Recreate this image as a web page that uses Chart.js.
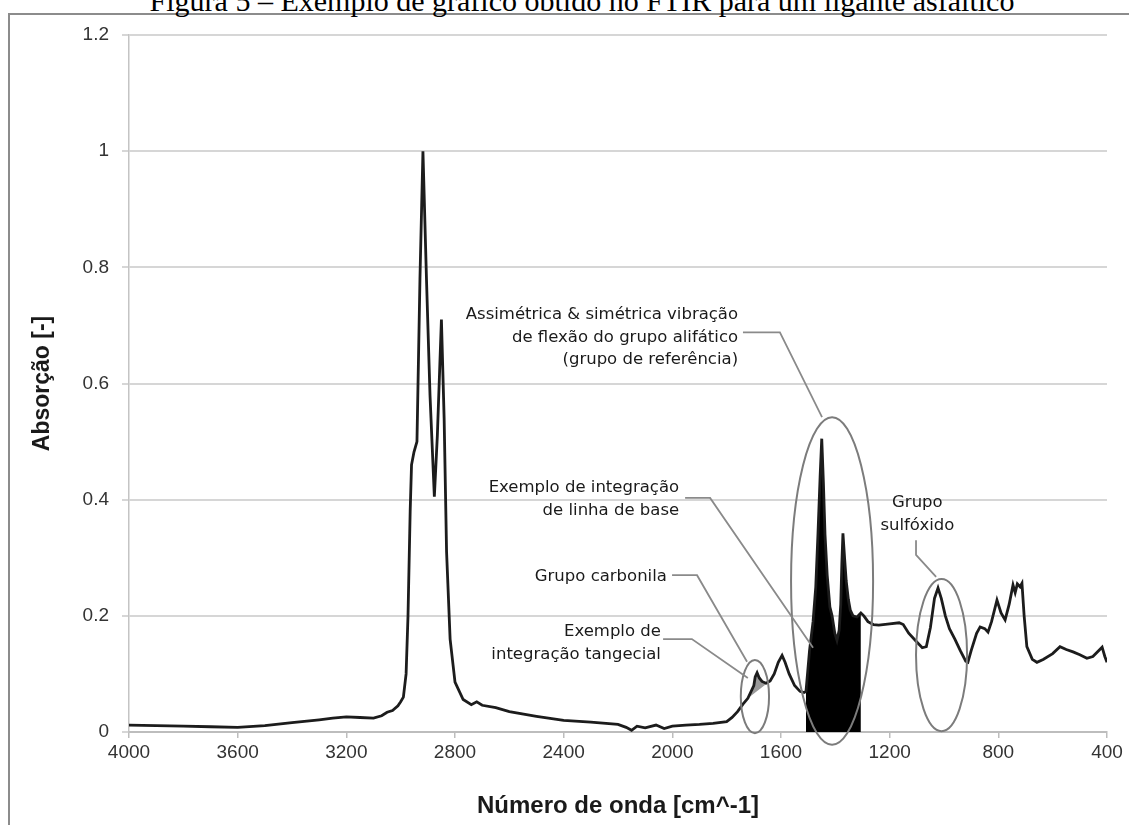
<html><head></head>
<body style="margin:0;background:#fff;overflow:hidden">
<script src="https://cdn.jsdelivr.net/npm/chart.js@4/dist/chart.umd.min.js"></script>
<div style="position:absolute;left:8px;top:13px;width:1200px;height:900px;border:2px solid #8c8c8c"></div>
<div style="position:absolute;left:0;top:-14px;width:1164px;text-align:center;font-family:'Liberation Serif','Times New Roman',serif;font-size:30px;line-height:30px;white-space:nowrap;color:#000">Figura 5 – Exemplo de gráfico obtido no FTIR para um ligante asfáltico</div>
<div style="position:absolute;left:0;top:0"><canvas id="myChart" width="1129" height="825"></canvas></div>
<script>
// spectrum
wavenumber = [4000,3900,3800,3700,3600,3500,3400,3300,3250,3200,3150,3100,3070,3050,3030,3010,3000,2990,2980,2973,
  2965,2960,2951,2940,2929,2918,2905,2892,2876,2865,2850,2840,2831,2818,2800,2770,2740,2720,2700,2650,
  2600,2500,2400,2300,2200,2170,2150,2130,2100,2060,2030,2000,1950,1900,1850,1800,1780,1760,1740,1722,
  1700,1695,1688,1680,1670,1655,1640,1625,1610,1596,1585,1570,1550,1530,1515,1508,1495,1482,1472,1464,
  1456,1450,1444,1438,1430,1420,1412,1402,1394,1386,1380,1376,1372,1366,1360,1352,1345,1335,1320,1306,
  1295,1280,1260,1240,1200,1165,1150,1130,1100,1080,1065,1050,1035,1022,1010,995,980,960,940,920,
  912,900,880,867,850,838,825,805,790,775,760,746,738,730,720,713,705,695,675,658,
  635,600,573,550,525,500,474,452,418,408,400];
absorbance = [0.012,0.011,0.010,0.009,0.008,0.011,0.016,0.021,0.024,0.026,0.025,0.024,0.028,0.034,0.037,0.045,0.052,0.060,0.100,0.200,
  0.380,0.460,0.482,0.500,0.780,1.000,0.780,0.580,0.405,0.510,0.710,0.540,0.310,0.160,0.086,0.056,0.047,0.052,0.046,0.042,
  0.035,0.027,0.020,0.017,0.013,0.008,0.003,0.010,0.007,0.012,0.006,0.010,0.012,0.013,0.015,0.018,0.025,0.035,0.048,0.058,
  0.080,0.095,0.102,0.093,0.087,0.084,0.088,0.100,0.120,0.132,0.120,0.100,0.080,0.070,0.068,0.070,0.140,0.190,0.250,0.340,
  0.440,0.505,0.430,0.340,0.270,0.215,0.200,0.170,0.158,0.175,0.220,0.290,0.342,0.300,0.260,0.228,0.210,0.200,0.198,0.205,
  0.200,0.190,0.185,0.184,0.186,0.188,0.185,0.170,0.155,0.145,0.147,0.180,0.230,0.248,0.230,0.200,0.178,0.160,0.140,0.122,
  0.120,0.140,0.170,0.181,0.178,0.172,0.190,0.227,0.205,0.193,0.220,0.253,0.240,0.255,0.250,0.256,0.200,0.147,0.125,0.120,
  0.125,0.135,0.147,0.142,0.138,0.133,0.127,0.130,0.146,0.130,0.120];

xTicks = [4000,3600,3200,2800,2400,2000,1600,1200,800,400];
yTicks = [0,0.2,0.4,0.6,0.8,1,1.2];

// integration windows
baselineRange = [1508, 1306];
tangentRange = [1722, 1640];

// callouts (wavenumber, absorbance)
calloutText = [
  ['Assimétrica & simétrica vibração', 'de flexão do grupo alifático', '(grupo de referência)'],
  ['Exemplo de integração', 'de linha de base'],
  ['Grupo carbonila'],
  ['Exemplo de', 'integração tangecial'],
  ['Grupo', 'sulfóxido']
];
calloutAnchor = [[1758,0.718],[1975,0.42],[2020,0.267],[2042,0.172],[1098,0.394]];
calloutAlign = ['right','right','right','right','center'];
leaderPaths = [
  [[1740,0.688],[1604,0.688],[1449,0.542]],
  [[1953,0.403],[1861,0.403],[1482,0.145]],
  [[2001,0.270],[1909,0.270],[1725,0.121]],
  [[2034,0.160],[1928,0.160],[1722,0.093]],
  [[1103,0.330],[1103,0.305],[1029,0.267]]
];
ellipseCenter = [[1696,0.061],[1412,0.26],[1009,0.1325]];
ellipseRadius = [[52,0.063],[151,0.282],[94,0.131]];

spectrum = wavenumber.map((w, i) => ({x: w, y: absorbance[i]}));
baselineArea = spectrum.filter(p => p.x <= baselineRange[0] && p.x >= baselineRange[1]);
tangentArea = spectrum.filter(p => p.x <= tangentRange[0] && p.x >= tangentRange[1]);
tangentLine = [tangentArea[0], tangentArea[tangentArea.length - 1]];

callouts = {
  id: 'callouts',
  afterDatasetsDraw(chart) {
    const c = chart.ctx, x = chart.scales.x, y = chart.scales.y;
    c.save();
    c.strokeStyle = '#7c7c7c';
    c.lineWidth = 2;
    for (let i = 0; i < ellipseCenter.length; i++) {
      const cx = x.getPixelForValue(ellipseCenter[i][0]);
      const cy = y.getPixelForValue(ellipseCenter[i][1]);
      const rx = Math.abs(x.getPixelForValue(ellipseCenter[i][0] + ellipseRadius[i][0]) - cx);
      const ry = Math.abs(y.getPixelForValue(ellipseCenter[i][1] + ellipseRadius[i][1]) - cy);
      c.beginPath();
      c.ellipse(cx, cy, rx, ry, 0, 0, Math.PI * 2);
      c.stroke();
    }
    c.strokeStyle = '#8a8a8a';
    c.lineWidth = 1.8;
    leaderPaths.forEach(path => {
      c.beginPath();
      path.forEach((p, j) => {
        const px = x.getPixelForValue(p[0]), py = y.getPixelForValue(p[1]);
        if (j == 0) c.moveTo(px, py); else c.lineTo(px, py);
      });
      c.stroke();
    });
    c.fillStyle = '#1a1a1a';
    c.font = '16.5px "DejaVu Sans"';
    c.textBaseline = 'middle';
    calloutText.forEach((lines, i) => {
      c.textAlign = calloutAlign[i];
      const px = x.getPixelForValue(calloutAnchor[i][0]);
      const py = y.getPixelForValue(calloutAnchor[i][1]);
      lines.forEach((t, j) => c.fillText(t, px, py + j * 22.5));
    });
    c.restore();
  }
};

ctx = document.getElementById('myChart').getContext('2d');
myChart = new Chart(ctx, {
  type: 'line',
  data: {
    datasets: [
      {data: spectrum, borderColor: '#1c1c1c', borderWidth: 2.8, pointRadius: 0, fill: false, order: 0},
      {data: baselineArea, borderColor: 'rgba(0,0,0,0)', borderWidth: 1, backgroundColor: '#000', pointRadius: 0, fill: 'origin', order: 2},
      {data: tangentArea, borderColor: 'rgba(0,0,0,0)', borderWidth: 1, backgroundColor: '#9a9a9a', pointRadius: 0, fill: 3, order: 2},
      {data: tangentLine, borderColor: 'rgba(0,0,0,0)', borderWidth: 1, pointRadius: 0, fill: false, order: 3}
    ]
  },
  options: {
    responsive: false,
    animation: false,
    layout: {padding: {left: 0, right: 22, top: 35, bottom: 0}},
    plugins: {legend: {display: false}, tooltip: {enabled: false}},
    scales: {
      x: {
        type: 'linear', reverse: true, min: 400, max: 4000,
        afterBuildTicks: s => { s.ticks = xTicks.map(v => ({value: v})); },
        afterFit: s => { s.height = 93; },
        ticks: {callback: v => String(v), autoSkip: false, maxRotation: 0, padding: 3,
                font: {family: 'Liberation Sans', size: 19}, color: '#333'},
        grid: {drawOnChartArea: false, tickLength: 6, color: '#bdbdbd', lineWidth: 1.5},
        border: {color: '#bdbdbd', width: 2},
        title: {display: true, text: 'Número de onda [cm^-1]', color: '#1a1a1a',
                font: {family: 'Liberation Sans', size: 24, weight: 'bold'}, padding: {top: 0, bottom: 4}}
      },
      y: {
        min: 0, max: 1.2,
        afterBuildTicks: s => { s.ticks = yTicks.map(v => ({value: v})); },
        afterFit: s => { s.width = 129; },
        ticks: {callback: v => String(v), padding: 13,
                font: {family: 'Liberation Sans', size: 19}, color: '#333'},
        grid: {color: '#d6d6d6', lineWidth: 2, tickLength: 7},
        border: {color: '#c4c4c4', width: 1.5},
        title: {display: true, text: 'Absorção [-]', color: '#1a1a1a',
                font: {family: 'Liberation Sans', size: 23, weight: 'bold'}, padding: {top: 29, bottom: 0}}
      }
    }
  },
  plugins: [callouts]
});
</script>
</body>
</html>
